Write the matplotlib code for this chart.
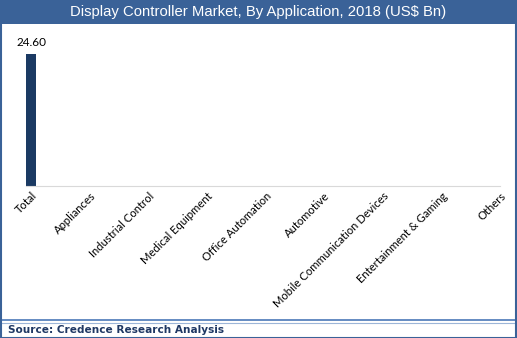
import matplotlib.pyplot as plt
from matplotlib.patches import Rectangle
from matplotlib.lines import Line2D

categories = ['Total', 'Appliances', 'Industrial Control', 'Medical Equipment',
              'Office Automation', 'Automotive', 'Mobile Communication Devices',
              'Entertainment & Gaming', 'Others']
values = [24.60, 0, 0, 0, 0, 0, 0, 0, 0]
labels = ['24.60', '', '', '', '', '', '', '', '']

W, H = 517, 338
fig = plt.figure(figsize=(W / 100, H / 100), dpi=100)
blue = '#3A6298'

# title banner
fig.patches.append(Rectangle((0, 1 - 24 / H), 1, 24 / H, transform=fig.transFigure,
                             facecolor=blue, edgecolor='none', zorder=0))
fig.text(0.5, 1 - 12 / H, 'Display Controller Market, By Application, 2018 (US$ Bn)',
         color='white', ha='center', va='center', fontsize=10.7,
         family='Liberation Sans')

# outer border
fig.patches.append(Rectangle((0.5 / W, 0.5 / H), 1 - 1.5 / W, 1 - 1.5 / H,
                             transform=fig.transFigure, fill=False,
                             edgecolor=blue, linewidth=1.5, zorder=5))

# separator above source line
fig.lines.append(Line2D([2 / W, 1 - 2 / W], [1 - 320 / H] * 2, transform=fig.transFigure,
                        color='#4A78B8', linewidth=1.2))
fig.lines.append(Line2D([2 / W, 1 - 2 / W], [1 - 323 / H] * 2, transform=fig.transFigure,
                        color='#9DB6D8', linewidth=0.8))
fig.text(8 / W, 1 - 330 / H, 'Source: Credence Research Analysis', color='#1F3864',
         ha='left', va='center', fontsize=7.6, fontweight='bold', family='DejaVu Sans')

# plot area
left, right, top, bottom = 26, 500, 40, 186
ax = fig.add_axes([left / W, 1 - bottom / H, (right - left) / W, (bottom - top) / H])
x = list(range(len(categories)))
bars = ax.bar(x, values, width=0.17, color='#1B3A63')
ax.bar_label(bars, labels=labels, padding=4, fontsize=8.5, family='Lato')
ax.set_xlim(-0.09, 8.0)
ax.set_ylim(0, 24.6 * (bottom - top) / (bottom - 54))
ax.set_yticks([])
ax.set_xticks(x)
ax.set_xticklabels(categories, rotation=45, ha='right', rotation_mode='anchor',
                   fontsize=8.1, family='Lato')
ax.tick_params(axis='x', length=0, pad=3)
for s in ['top', 'right', 'left']:
    ax.spines[s].set_visible(False)
ax.spines['bottom'].set_color('#D9D9D9')
ax.patch.set_alpha(0)

fig.savefig('out.png', dpi=100)
